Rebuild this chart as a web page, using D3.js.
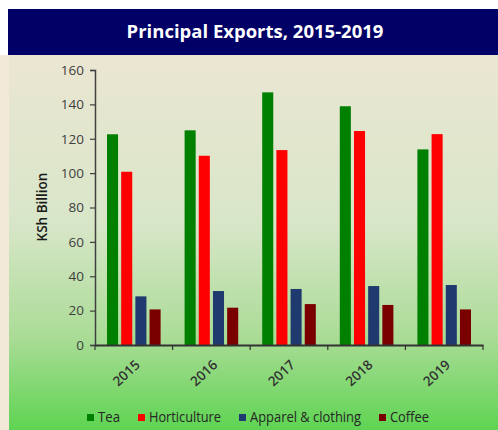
<!DOCTYPE html>
<html>
<head>
<meta charset="utf-8">
<script src="https://cdn.jsdelivr.net/npm/d3@7"></script>
<style>
  html, body { margin: 0; padding: 0; background: #ffffff; }
  svg { display: block; }
</style>
</head>
<body>
<div id="chart"></div>
<script>
// ---- data ----
var years = ['2015', '2016', '2017', '2018', '2019'];
var seriesNames = ['Tea', 'Horticulture', 'Apparel & clothing', 'Coffee'];
var seriesColors = ['#008000', '#ff0000', '#1f3a6e', '#7a0000'];
var tea = [122.6, 124.9, 147.0, 138.9, 113.8];
var horticulture = [100.8, 110.1, 113.4, 124.5, 122.7];
var apparel = [28.3, 31.4, 32.6, 34.3, 34.9];
var coffee = [20.7, 21.7, 23.8, 23.3, 20.7];
var yTicks = [0, 20, 40, 60, 80, 100, 120, 140, 160];

var seriesValues = [tea, horticulture, apparel, coffee];

var W = 498, H = 430;
var margin = { top: 70, right: 15, bottom: 85, left: 95 };
var width = W - margin.left - margin.right;
var height = H - margin.top - margin.bottom;
var FONT = 'Open Sans, sans-serif';

var svg = d3.select('#chart').append('svg')
  .attr('width', W).attr('height', H);

// background panel gradient
var defs = svg.append('defs');
var grad = defs.append('linearGradient')
  .attr('id', 'bg').attr('x1', 0).attr('y1', 0).attr('x2', 0).attr('y2', 1);
grad.append('stop').attr('offset', '0%').attr('stop-color', '#ebe6d2');
grad.append('stop').attr('offset', '45%').attr('stop-color', '#d8e6c8');
grad.append('stop').attr('offset', '75%').attr('stop-color', '#abdc97');
grad.append('stop').attr('offset', '100%').attr('stop-color', '#5ed452');

svg.append('rect').attr('x', 0).attr('y', 55).attr('width', 10).attr('height', H - 55)
  .attr('fill', '#f2e9d8');
svg.append('rect').attr('x', 9).attr('y', 55).attr('width', W - 9).attr('height', H - 55)
  .attr('fill', 'url(#bg)');

// title band
svg.append('rect').attr('x', 8).attr('y', 9).attr('width', W - 8).attr('height', 46)
  .attr('fill', '#000066');
svg.append('text')
  .attr('x', 255).attr('y', 33)
  .attr('text-anchor', 'middle').attr('dominant-baseline', 'middle')
  .attr('fill', '#ffffff').attr('font-family', FONT)
  .attr('font-weight', 700).attr('font-size', 18.5)
  .text('Principal Exports, 2015-2019');

var g = svg.append('g')
  .attr('transform', 'translate(' + margin.left + ',' + margin.top + ')');

var x0 = d3.scaleBand().domain(years).range([0, width]).padding(0);
var x1 = d3.scaleBand().domain(d3.range(seriesNames.length))
  .range([12, x0.bandwidth() - 12]).paddingInner(0.22);
var y = d3.scaleLinear().domain([0, 160]).range([height, 0]);

// bars
years.forEach(function(yr, i) {
  seriesValues.forEach(function(vals, s) {
    g.append('rect')
      .attr('x', x0(yr) + x1(s))
      .attr('y', y(vals[i]))
      .attr('width', x1.bandwidth())
      .attr('height', y(0) - y(vals[i]))
      .attr('fill', seriesColors[s]);
  });
});

// y axis
g.append('g')
  .call(d3.axisLeft(y).tickValues(yTicks).tickSize(5).tickPadding(6))
  .call(function(a) {
    a.select('.domain').attr('stroke', '#404040').attr('stroke-width', 1.5);
    a.selectAll('line').attr('stroke', '#404040').attr('stroke-width', 1.2);
    a.selectAll('text').attr('fill', '#404040').attr('font-size', 13.5)
      .attr('font-family', FONT);
  });

// x axis
g.append('g')
  .attr('transform', 'translate(0,' + height + ')')
  .call(d3.axisBottom(x0).tickSize(0).tickPadding(0))
  .call(function(a) {
    a.select('.domain').attr('stroke', '#333333').attr('stroke-width', 1.8);
    a.selectAll('.tick line').remove();
    a.selectAll('text')
      .attr('fill', '#333333').attr('font-size', 13.5).attr('font-weight', 600)
      .attr('font-family', FONT)
      .attr('text-anchor', 'end')
      .attr('dy', 0)
      .attr('transform', 'translate(7,21) rotate(-43)');
  });

// x axis category separator ticks
g.selectAll('.sep').data(years.concat(['end']))
  .enter().append('line')
  .attr('x1', function(d, i) { return i < years.length ? x0(d) : width; })
  .attr('x2', function(d, i) { return i < years.length ? x0(d) : width; })
  .attr('y1', height).attr('y2', height + 5)
  .attr('stroke', '#333333').attr('stroke-width', 1.2);

// y axis title
svg.append('text')
  .attr('transform', 'translate(43,207) rotate(-90)')
  .attr('text-anchor', 'middle').attr('dominant-baseline', 'middle')
  .attr('fill', '#1a1a1a').attr('font-size', 13.5).attr('font-weight', 600)
  .attr('font-family', FONT)
  .text('KSh Billion');

// legend
var legendX = [87, 138, 239, 379];
var legendW = [22, 72, 111, 39];
var legend = svg.append('g').attr('transform', 'translate(0,418)');
seriesNames.forEach(function(n, s) {
  legend.append('rect')
    .attr('x', legendX[s]).attr('y', -4)
    .attr('width', 7).attr('height', 7)
    .attr('fill', seriesColors[s]);
  legend.append('text')
    .attr('x', legendX[s] + 11).attr('y', 0)
    .attr('dominant-baseline', 'middle')
    .attr('fill', '#262626').attr('font-size', 14)
    .attr('font-family', FONT)
    .attr('textLength', legendW[s]).attr('lengthAdjust', 'spacingAndGlyphs')
    .text(n);
});
</script>
</body>
</html>
